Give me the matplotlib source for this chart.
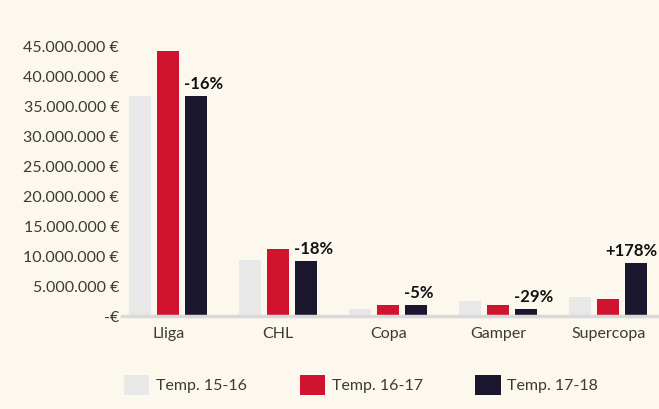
import matplotlib.pyplot as plt
import numpy as np
from matplotlib.patches import Patch
from matplotlib.ticker import FuncFormatter

categories = ['Lliga', 'CHL', 'Copa', 'Gamper', 'Supercopa']
seasons = ['Temp. 15-16', 'Temp. 16-17', 'Temp. 17-18']
t1516 = [36.7e6, 9.3e6, 1.2e6, 2.5e6, 3.2e6]
t1617 = [44.2e6, 11.2e6, 1.85e6, 1.85e6, 2.85e6]
t1718 = [36.7e6, 9.2e6, 1.8e6, 1.2e6, 8.9e6]
changes = ['-16%', '-18%', '-5%', '-29%', '+178%']

bg = '#fdf8ee'
colors = ['#e8e8e8', '#d0132f', '#1a162e']
txt = '#3c3a38'

plt.rcParams['font.family'] = ['Lato', 'DejaVu Sans']

fig = plt.figure(figsize=(6.59, 4.09), dpi=100, facecolor=bg)
# axes in pixel terms: left 122, right 659, bottom 316, top 31
ax = fig.add_axes([122/659, 1 - 316/409, (659-122)/659, (316-31)/409])
ax.set_facecolor(bg)

x = np.arange(len(categories))
w = 0.2
off = 0.255
for i, vals in enumerate([t1516, t1617, t1718]):
    ax.bar(x + (i-1)*off, vals, w, color=colors[i], zorder=2)

for i, lab in enumerate(changes):
    if i == len(changes) - 1:
        ax.annotate(lab, (x[i] + off + w/2, t1718[i]), xytext=(10, 4),
                    textcoords='offset pixels', ha='right', va='bottom',
                    fontsize=12, fontweight='bold', color='#111111')
    else:
        ax.annotate(lab, (x[i] + off - w/2, t1718[i]), xytext=(-1, 4),
                    textcoords='offset pixels', ha='left', va='bottom',
                    fontsize=12, fontweight='bold', color='#111111')

ax.set_xlim(-0.42, 4.46)
ax.set_ylim(0, 47.5e6)
ax.set_yticks(np.arange(0, 45e6 + 1, 5e6))


def eur(v, pos):
    if v == 0:
        return '-€'
    return f'{int(v):,} €'.replace(',', '.')


ax.yaxis.set_major_formatter(FuncFormatter(eur))
ax.set_xticks(x)
ax.set_xticklabels(categories)
ax.tick_params(axis='both', length=0, labelsize=11.5, colors=txt)
ax.tick_params(axis='y', pad=2)
ax.tick_params(axis='x', pad=8)
for s in ['top', 'right', 'left']:
    ax.spines[s].set_visible(False)
ax.spines['bottom'].set_color('#d9d9d9')
ax.spines['bottom'].set_linewidth(2.5)

handles = [Patch(facecolor=c, edgecolor='none') for c in colors]
fig.legend(handles, seasons, loc='center', bbox_to_anchor=(361/659, 1 - 385/409),
           ncol=3, frameon=False, fontsize=11.5, labelcolor=txt,
           handlelength=1.6, handleheight=1.6, handletextpad=0.4,
           columnspacing=3.3)

fig.savefig('out.png', dpi=100, facecolor=bg)
